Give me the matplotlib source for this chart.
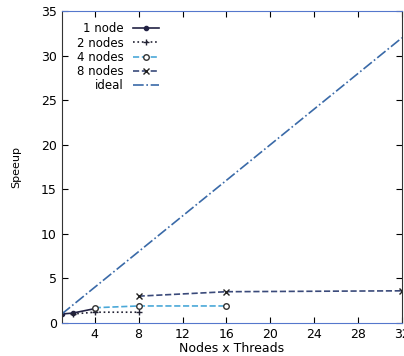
import matplotlib
matplotlib.use('Agg')
import matplotlib.pyplot as plt

x1 = [1, 2, 4]
y1 = [1.0, 1.1, 1.6]
x2 = [2, 4, 8]
y2 = [1.0, 1.2, 1.2]
x4 = [4, 8, 16]
y4 = [1.7, 1.9, 1.9]
x8 = [8, 16, 32]
y8 = [3.0, 3.5, 3.6]
xi = [1, 32]
yi = [1, 32]

fig = plt.figure(figsize=(4.04, 3.56), dpi=100)
ax = fig.add_axes([0.153, 0.093, 0.842, 0.876])

ax.plot(x1, y1, '-', color='#222244', marker='o', ms=3, lw=1.2, label='1 node')
ax.plot(x2, y2, ':', color='#222233', marker='+', ms=4, lw=1.2, label='2 nodes')
ax.plot(x4, y4, '--', color='#4aa8d8', marker='o', mfc='white', mec='#333333', ms=4, lw=1.2, label='4 nodes')
ax.plot(x8, y8, '--', color='#3a4a7a', marker='x', mec='#222222', ms=4, lw=1.2, label='8 nodes')
ax.plot(xi, yi, '-.', color='#3a6aa8', lw=1.2, label='ideal')

ax.set_xlim(1, 32)
ax.set_ylim(0, 35)
ax.set_xticks([4, 8, 12, 16, 20, 24, 28, 32])
ax.set_yticks([0, 5, 10, 15, 20, 25, 30, 35])
ax.tick_params(direction='in', top=True, right=True, labelsize=9, length=4)
for s in ['bottom', 'top']:
    ax.spines[s].set_color('#5577cc')
ax.spines['left'].set_color('#333333')
ax.spines['right'].set_color('#333333')
ax.set_xlabel('Nodes x Threads', fontsize=9, labelpad=1)
ax.set_ylabel('Speeup', fontsize=8, labelpad=14)

leg = ax.legend(loc='upper left', bbox_to_anchor=(0.02, 0.99), frameon=False, fontsize=8.5,
                markerfirst=False, handlelength=2.2, labelspacing=0.1, borderaxespad=0.3)
for t in leg.get_texts():
    t.set_ha('right')
leg._legend_box.align = 'right'

fig.savefig('out.png', dpi=100)
